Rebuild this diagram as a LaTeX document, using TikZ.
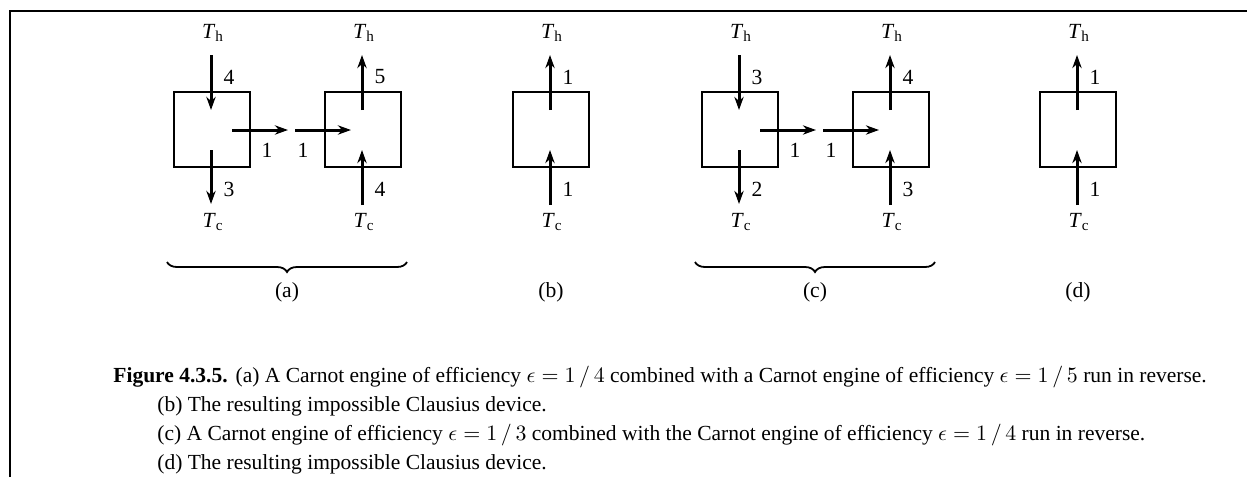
\documentclass[tikz,border=0pt]{standalone}
\usepackage{fontspec}
\setmainfont{Liberation Serif}
\usetikzlibrary{arrows.meta,decorations.pathreplacing}
\newcommand{\Thot}{\textit{T}$_{\mathrm{h}}$}
\newcommand{\Tcold}{\textit{T}$_{\mathrm{c}}$}
\tikzset{
  frameline/.style={line width=1.25pt},
  engbox/.style={draw, line width=1pt, minimum width=38pt, minimum height=37.5pt, inner sep=0pt},
  flow/.style={line width=1.5pt, -{Stealth[length=6.5pt,width=4.6pt,inset=2pt]}},
  lbl/.style={font=\fontsize{10.8}{12}\selectfont, inner sep=0pt},
  bracestyle/.style={decorate, decoration={brace, mirror, amplitude=5pt}, line width=0.9pt},
  captext/.style={font=\fontsize{10.75}{12}\selectfont, inner sep=0pt, anchor=base west},
}
% engine: heat flows down, work out to the right
\newcommand{\engineunit}[4]{%
  \node[engbox] (#1) at (#2,129.5) {};
  \node[lbl] (#1h) at (#2+1,33) {\Thot};
  \node[lbl] (#1c) at (#2+1,222) {\Tcold};
  \coordinate (#1a) at (#2-1,55);  \coordinate (#1b) at (#2-1,110);
  \coordinate (#1d) at (#2-1,150); \coordinate (#1e) at (#2-1,204);
  \coordinate (#1f) at (#2+20,130); \coordinate (#1g) at (#2+76,130);
  \draw[flow] (#1a) -- (#1b);
  \draw[flow] (#1d) -- (#1e);
  \draw[flow] (#1f) -- (#1g);
  \node[lbl] (#1n1) at (#2+17,77) {#3};
  \node[lbl] (#1n2) at (#2+17,189) {#4};
  \node[lbl] (#1w) at (#2+55,150) {1};
}
% reversed engine: heat flows up, work in from the left
\newcommand{\fridgeunit}[5]{%
  \node[engbox] (#1) at (#2,129.5) {};
  \node[lbl] (#1h) at (#2+1,33) {\Thot};
  \node[lbl] (#1c) at (#2+1,222) {\Tcold};
  \coordinate (#1a) at (#2-1,110); \coordinate (#1b) at (#2-1,55);
  \coordinate (#1d) at (#2-1,205); \coordinate (#1e) at (#2-1,150);
  \draw[flow] (#1a) -- (#1b);
  \draw[flow] (#1d) -- (#1e);
  \node[lbl] (#1n1) at (#2+17,77) {#3};
  \node[lbl] (#1n2) at (#2+17,189) {#4};
  \ifx#5y
    \coordinate (#1f) at (#2-68,130); \coordinate (#1g) at (#2-12,130);
    \draw[flow] (#1f) -- (#1g);
    \node[lbl] (#1w) at (#2-60,150) {1};
  \fi
}
\begin{document}
\begin{tikzpicture}[x=0.5pt,y=-0.5pt]
  \useasboundingbox (0,0) rectangle (1247,477);
  \coordinate (fa) at (10,477); \coordinate (fb) at (10,11); \coordinate (fc) at (1247,11);
  \draw[frameline] (fa) -- (fb) -- (fc);

  \engineunit{A}{212}{4}{3}
  \fridgeunit{B}{363}{5}{4}{y}
  \fridgeunit{C}{551}{1}{1}{n}
  \engineunit{D}{740}{3}{2}
  \fridgeunit{E}{891}{4}{3}{y}
  \fridgeunit{F}{1078}{1}{1}{n}

  \coordinate (ba1) at (167,262); \coordinate (ba2) at (407,262);
  \draw[bracestyle] (ba1) -- (ba2);
  \coordinate (bc1) at (695,262); \coordinate (bc2) at (935,262);
  \draw[bracestyle] (bc1) -- (bc2);
  \node[lbl] (la) at (287,292) {(a)};
  \node[lbl] (lb) at (551,292) {(b)};
  \node[lbl] (lc) at (815,292) {(c)};
  \node[lbl] (ld) at (1078,292) {(d)};

  \node[captext] (cap1) at (113,382) {\textbf{Figure 4.3.5.}\hspace{4pt}(a) A Carnot engine of efficiency $\epsilon = 1\,/\,4$ combined with a Carnot engine of efficiency $\epsilon = 1\,/\,5$ run in reverse.};
  \node[captext] (cap2) at (157,411) {(b) The resulting impossible Clausius device.};
  \node[captext] (cap3) at (157,440) {(c) A Carnot engine of efficiency $\epsilon = 1\,/\,3$ combined with the Carnot engine of efficiency $\epsilon = 1\,/\,4$ run in reverse.};
  \node[captext] (cap4) at (157,469) {(d) The resulting impossible Clausius device.};
\end{tikzpicture}
\end{document}
